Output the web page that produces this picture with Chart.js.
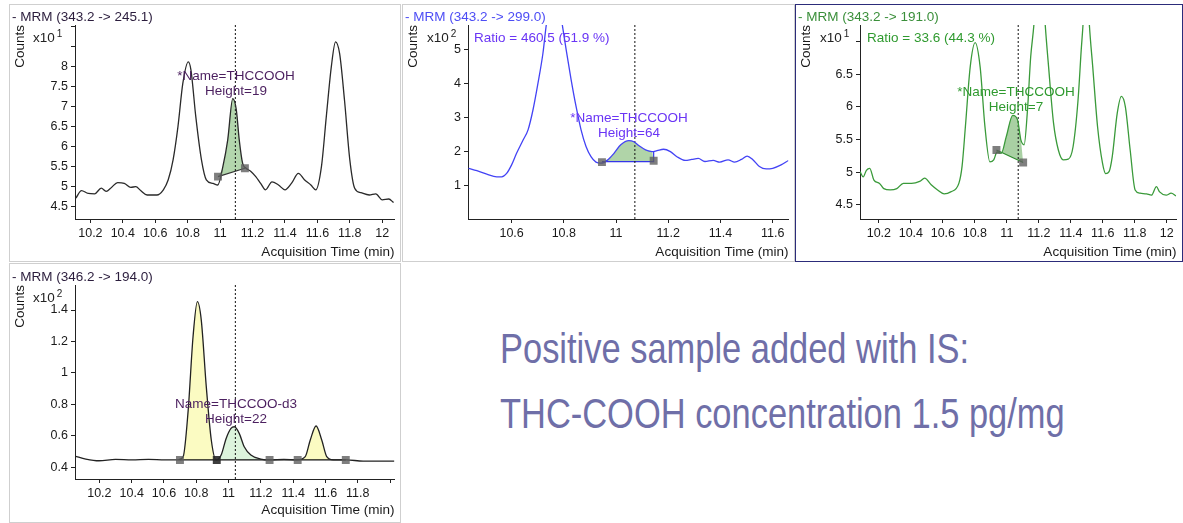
<!DOCTYPE html>
<html>
<head>
<meta charset="utf-8">
<script src="https://cdn.jsdelivr.net/npm/chart.js@4.4.1/dist/chart.umd.min.js"></script>
<style>
  body{margin:0;width:1183px;height:523px;overflow:hidden;background:#fff;position:relative;font-family:"Liberation Sans",Arial,sans-serif;}
  .panel{position:absolute;box-sizing:border-box;border:1px solid #cfcfcf;background:#fff;}
  .panel canvas{position:absolute;left:0;top:0;}
  .lbl{position:absolute;font-size:13.5px;line-height:15px;white-space:nowrap;}
  .lbl sup{font-size:10px;vertical-align:5px;line-height:0;margin-left:2px;}
  .note{position:absolute;font-size:13.5px;line-height:15px;white-space:nowrap;text-align:center;transform:translateX(-50%);}
  .big{position:absolute;left:500px;top:316px;font-family:"Liberation Sans",Arial,sans-serif;font-size:42px;line-height:65px;color:#6f6fa8;white-space:nowrap;transform:scaleX(0.82);transform-origin:0 0;}
</style>
</head>
<body>

<div class="panel" style="left:9px;top:4px;width:392px;height:258px"><canvas id="c1" width="390" height="256"></canvas></div>
<div class="panel" style="left:402px;top:4px;width:393px;height:258px"><canvas id="c2" width="391" height="256"></canvas></div>
<div class="panel" style="left:795px;top:4px;width:388px;height:258px;border-color:#2c2c7a"><canvas id="c3" width="386" height="256"></canvas></div>
<div class="panel" style="left:9px;top:263px;width:392px;height:260px"><canvas id="c4" width="390" height="258"></canvas></div>

<div class="lbl" style="left:12px;top:9px;color:#2b1d3d">- MRM (343.2 -&gt; 245.1)</div>
<div class="lbl" style="left:405px;top:9px;color:#4d4df5">- MRM (343.2 -&gt; 299.0)</div>
<div class="lbl" style="left:798px;top:9px;color:#3a8f3a">- MRM (343.2 -&gt; 191.0)</div>
<div class="lbl" style="left:12px;top:269px;color:#2b1d3d">- MRM (346.2 -&gt; 194.0)</div>

<div class="lbl" style="left:33px;top:30px;color:#222">x10<sup>1</sup></div>
<div class="lbl" style="left:427px;top:30px;color:#222">x10<sup>2</sup></div>
<div class="lbl" style="left:820px;top:30px;color:#222">x10<sup>1</sup></div>
<div class="lbl" style="left:33px;top:290px;color:#222">x10<sup>2</sup></div>

<div class="lbl" style="left:474px;top:30px;color:#6a35f5">Ratio = 460.5 (51.9 %)</div>
<div class="lbl" style="left:867px;top:30px;color:#2f9a2f">Ratio = 33.6 (44.3 %)</div>

<div class="note" style="left:236px;top:68px;color:#4b1f5f">*Name=THCCOOH<br>Height=19</div>
<div class="note" style="left:629px;top:110px;color:#6a35f5">*Name=THCCOOH<br>Height=64</div>
<div class="note" style="left:1016px;top:84px;color:#2f9a2f">*Name=THCCOOH<br>Height=7</div>
<div class="note" style="left:236px;top:396px;color:#4b1f5f">Name=THCCOO-d3<br>Height=22</div>

<div class="big">Positive sample added with IS:<br>THC-COOH concentration 1.5 pg/mg</div>

<script>
// tick values / labels
const xTicksA  = [10.2, 10.4, 10.6, 10.8, 11, 11.2, 11.4, 11.6, 11.8, 12];
const xLabelsA = ['10.2','10.4','10.6','10.8','11','11.2','11.4','11.6','11.8','12'];
const xTicks2  = [10.6, 10.8, 11, 11.2, 11.4, 11.6];
const xLabels2 = ['10.6','10.8','11','11.2','11.4','11.6'];
const xLabels4 = ['10.2','10.4','10.6','10.8','11','11.2','11.4','11.6','11.8',''];
const yTicks1  = [4.5, 5, 5.5, 6, 6.5, 7, 7.5, 8, 8.5, 9];
const yLabels1 = ['4.5','5','5.5','6','6.5','7','7.5','8','',''];
const yTicks2  = [1, 2, 3, 4, 5];
const yLabels2 = ['1','2','3','4','5'];
const yTicks3  = [4.5, 5, 5.5, 6, 6.5, 7];
const yLabels3 = ['4.5','5','5.5','6','6.5',''];
const yTicks4  = [0.4, 0.6, 0.8, 1, 1.2, 1.4];
const yLabels4 = ['0.4','0.6','0.8','1','1.2','1.4'];

// MRM 343.2 -> 245.1  (counts x10^1)
const time1 = [10.11,10.145,10.186,10.226,10.267,10.297,10.33,10.368,10.409,10.449,10.48,10.51,10.55,10.61,10.65,10.68,10.71,10.74,10.77,10.804,10.82,10.85,10.885,10.915,10.956,10.986,11.017,11.047,11.078,11.1,11.118,11.139,11.16,11.19,11.22,11.25,11.28,11.32,11.36,11.4,11.44,11.483,11.52,11.56,11.59,11.625,11.655,11.686,11.712,11.737,11.767,11.8,11.83,11.868,11.92,11.96,12.0,12.04,12.07];
const counts1 = [4.71,4.9,4.83,4.82,4.96,4.88,4.98,5.1,5.08,4.98,5.0,4.9,4.79,4.79,4.92,5.17,5.67,6.5,7.58,8.12,7.92,6.75,5.67,5.17,5.08,5.04,5.5,6.17,7.2,6.92,6.17,5.58,5.46,5.38,5.25,5.08,4.92,5.12,5.04,4.92,5.08,5.33,5.17,5.04,4.92,5.5,6.75,8.0,8.62,8.33,7.17,5.67,4.96,4.85,4.79,4.82,4.67,4.69,4.6];
const base1 = [[10.987, 5.25], [11.153, 5.46]];
const rt1 = 11.094;

// MRM 343.2 -> 299.0  (counts x10^2)
const time2 = [10.435,10.467,10.505,10.543,10.562,10.581,10.6,10.619,10.644,10.663,10.682,10.701,10.72,10.733,10.765,10.794,10.809,10.828,10.847,10.866,10.885,10.904,10.923,10.942,10.967,10.992,11.018,11.049,11.068,11.087,11.113,11.138,11.157,11.182,11.208,11.233,11.265,11.29,11.315,11.34,11.372,11.397,11.429,11.454,11.48,11.502,11.524,11.549,11.575,11.6,11.632,11.66];
const counts2 = [1.52,1.45,1.35,1.27,1.27,1.37,1.62,1.96,2.35,2.65,3.24,4.02,4.9,5.74,7.0,5.74,5.0,4.12,3.33,2.65,2.16,1.86,1.7,1.67,1.76,1.96,2.21,2.33,2.3,2.19,2.06,2.01,2.04,2.08,2.01,1.86,1.75,1.78,1.81,1.72,1.75,1.7,1.77,1.7,1.78,1.88,1.77,1.57,1.5,1.52,1.62,1.75];
const base2 = [[10.946, 1.716], [11.144, 1.716], [11.144, 2.02]];
const marks2 = [[10.946, 1.70], [11.144, 1.74]];
const rt2 = 11.072;

// MRM 343.2 -> 191.0  (counts x10^1)
const time3 = [10.082,10.102,10.122,10.143,10.169,10.204,10.231,10.271,10.312,10.353,10.404,10.455,10.486,10.527,10.567,10.608,10.649,10.7,10.72,10.741,10.771,10.802,10.833,10.863,10.894,10.918,10.939,10.965,10.996,11.037,11.067,11.088,11.108,11.129,11.149,11.169,11.205,11.24,11.261,11.292,11.322,11.353,11.384,11.414,11.445,11.465,11.476,11.496,11.516,11.537,11.567,11.598,11.618,11.639,11.659,11.69,11.716,11.741,11.771,11.802,11.833,11.873,11.904,11.935,11.955,11.996,12.027,12.057];
const counts3 = [5.01,4.93,5.03,5.06,4.88,4.83,4.75,4.73,4.75,4.83,4.83,4.86,4.91,4.81,4.73,4.67,4.7,4.83,5.09,5.7,6.61,6.98,6.61,5.7,5.16,5.19,5.31,5.29,5.54,5.87,5.8,5.49,5.42,5.95,6.76,7.25,8.6,7.25,6.61,5.75,5.34,5.19,5.2,5.39,6.1,6.87,7.25,8.2,7.25,6.61,5.7,5.14,4.98,5.01,5.24,5.9,6.16,6.0,5.34,4.73,4.68,4.67,4.65,4.78,4.7,4.65,4.68,4.64];
const base3 = [[10.935, 5.34], [11.102, 5.15]];
const rt3 = 11.071;

// MRM 346.2 -> 194.0  (counts x10^2, internal standard)
const time4 = [10.049,10.116,10.198,10.3,10.402,10.504,10.607,10.688,10.719,10.75,10.78,10.807,10.831,10.862,10.893,10.923,10.954,10.985,11.015,11.036,11.066,11.097,11.138,11.199,11.26,11.342,11.424,11.475,11.506,11.542,11.577,11.608,11.649,11.73,11.833,11.935,12.027];
const counts4 = [0.472,0.453,0.442,0.451,0.447,0.451,0.447,0.447,0.468,0.764,1.23,1.453,1.336,0.913,0.574,0.447,0.478,0.584,0.648,0.658,0.616,0.531,0.478,0.453,0.447,0.451,0.447,0.468,0.574,0.663,0.574,0.468,0.447,0.447,0.44,0.44,0.44];
const level4 = 0.447;
const peakEdges4 = [10.699, 10.927, 11.254, 11.428, 11.726];
const rt4 = 11.042;

const pts = (t, c) => t.map((x, i) => ({ x, y: c[i] }));
const xy = a => ({ x: a[0], y: a[1] });
const inside = (t, c, a, b) => pts(t, c).filter(p => p.x > a && p.x < b);

function axis(min, max, ticks, labels, fit, isX, titleText, titlePad){
  return {
    type: 'linear', min, max,
    afterBuildTicks: s => { s.ticks = ticks.map(v => ({ value: v })); },
    afterFit: s => {
      if (isX) s.height = fit; else s.width = fit;
      s.paddingLeft = s.paddingRight = s.paddingTop = s.paddingBottom = 0;
    },
    ticks: {
      autoSkip: false, maxRotation: 0, padding: 3, color: '#1a1a1a',
      font: { family: 'Liberation Sans', size: 12.5 },
      callback: (v, i) => labels[i]
    },
    grid: { drawOnChartArea: false, drawTicks: true, tickLength: 4, color: '#222', lineWidth: 1 },
    border: { display: true, color: '#222', width: 1 },
    title: {
      display: true, text: titleText, align: 'end', color: '#1a1a1a',
      font: { family: 'Liberation Sans', size: 13.5 },
      padding: isX ? { top: 0, bottom: titlePad } : { top: titlePad, bottom: 0 }
    }
  };
}

function panel(id, p){
  const ds = [];
  ds.push({ data: pts(p.t, p.c), borderColor: p.color, borderWidth: 1.3, pointRadius: 0,
            cubicInterpolationMode: 'monotone', order: 1 });
  ds.push({ data: p.marks.map(xy), showLine: false, pointStyle: 'rect', pointRadius: 5.6,
            backgroundColor: p.markColors || 'rgba(95,95,95,0.8)', borderWidth: 0, order: 0 });
  ds.push({ data: [{ x: p.rt, y: p.yMin }, { x: p.rt, y: p.yMax }], borderColor: '#111',
            borderWidth: 1, borderDash: [2, 2], pointRadius: 0, order: 2 });
  const bIdx = ds.length;
  ds.push({ data: p.base.map(xy), borderColor: p.baseColor, borderWidth: 1.2, pointRadius: 0, order: 3 });
  p.peaks.forEach(pk => {
    ds.push({
      data: [xy(pk.a), ...inside(p.t, p.c, pk.a[0], pk.b[0]), xy(pk.b)],
      borderWidth: 0, pointRadius: 0, backgroundColor: pk.fill,
      fill: pk.level != null ? { value: pk.level } : { target: bIdx },
      cubicInterpolationMode: 'monotone', order: 4
    });
  });

  return new Chart(document.getElementById(id), {
    type: 'line',
    data: { datasets: ds },
    options: {
      responsive: false, animation: false, events: [],
      layout: { padding: { left: 0, top: p.padTop, right: p.padRight, bottom: 0 } },
      plugins: { legend: { display: false }, tooltip: { enabled: false } },
      scales: {
        x: axis(p.xMin, p.xMax, p.xTicks, p.xLabels, p.xH, true, 'Acquisition Time (min)', p.xTitlePad),
        y: axis(p.yMin, p.yMax, p.yTicks, p.yLabels, p.yW, false, 'Counts', 2)
      }
    }
  });
}

panel('c1', {
  t: time1, c: counts1, color: '#2a2a2a', baseColor: '#333',
  xMin: 10.105, xMax: 12.075, yMin: 4.19, yMax: 9.04,
  xTicks: xTicksA, xLabels: xLabelsA, yTicks: yTicks1, yLabels: yLabels1,
  padTop: 20, padRight: 1, xH: 42, yW: 65, xTitlePad: 1,
  rt: rt1, base: base1, marks: base1,
  peaks: [{ a: base1[0], b: base1[1], fill: '#b3d6ad' }]
});

panel('c2', {
  t: time2, c: counts2, color: '#4343f5', baseColor: '#3535e8',
  xMin: 10.433, xMax: 11.66, yMin: 0.03, yMax: 5.73,
  xTicks: xTicks2, xLabels: xLabels2, yTicks: yTicks2, yLabels: yLabels2,
  padTop: 20, padRight: 3, xH: 42, yW: 65, xTitlePad: 1,
  rt: rt2, base: base2, marks: marks2,
  peaks: [{ a: base2[0], b: base2[1], level: base2[0][1], fill: '#b0d4a8' }]
});

panel('c3', {
  t: time3, c: counts3, color: '#3a9a3a', baseColor: '#2e8b2e',
  xMin: 10.082, xMax: 12.06, yMin: 4.286, yMax: 7.25,
  xTicks: xTicksA, xLabels: xLabelsA, yTicks: yTicks3, yLabels: yLabels3,
  padTop: 20, padRight: 0, xH: 42, yW: 64, xTitlePad: 1,
  rt: rt3, base: base3, marks: base3,
  peaks: [{ a: base3[0], b: base3[1], fill: '#a9d0a3' }]
});

const edges4 = peakEdges4.map(x => [x, level4]);
panel('c4', {
  t: time4, c: counts4, color: '#222', baseColor: '#111',
  xMin: 10.049, xMax: 12.027, yMin: 0.326, yMax: 1.559,
  xTicks: xTicksA, xLabels: xLabels4, yTicks: yTicks4, yLabels: yLabels4,
  padTop: 21, padRight: 1, xH: 43, yW: 65, xTitlePad: 4,
  rt: rt4, base: [edges4[0], edges4[4]], marks: edges4,
  markColors: ['rgba(95,95,95,0.8)', 'rgba(40,40,40,0.9)', 'rgba(95,95,95,0.8)', 'rgba(95,95,95,0.8)', 'rgba(95,95,95,0.8)'],
  peaks: [
    { a: edges4[0], b: edges4[1], level: level4, fill: '#fbfbc2' },
    { a: edges4[1], b: edges4[2], level: level4, fill: '#dcf4dc' },
    { a: edges4[3], b: edges4[4], level: level4, fill: '#fbfbc2' }
  ]
});
</script>
</body>
</html>
